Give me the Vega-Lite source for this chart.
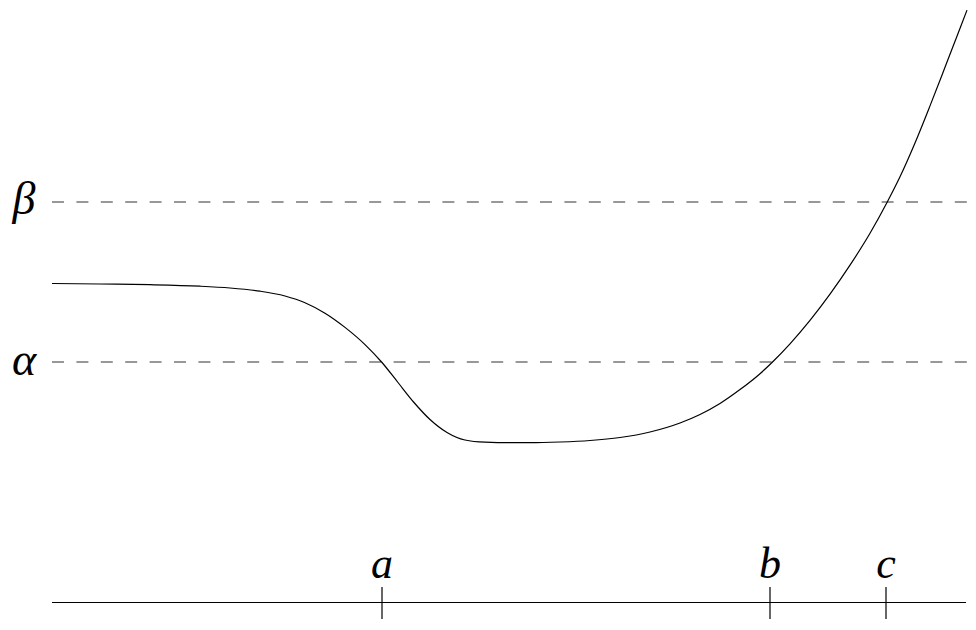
{
  "$schema": "https://vega.github.io/schema/vega-lite/v6.json",
  "width": 976,
  "height": 630,
  "autosize": {"type": "fit", "contains": "padding"},
  "padding": 0,
  "background": "white",
  "config": {"view": {"stroke": null}},
  "datasets": {
    "curve": [
      {"x": 52, "y": 346.5}, {"x": 100, "y": 346}, {"x": 150, "y": 345.3}, {"x": 200, "y": 343.8},
      {"x": 230, "y": 342}, {"x": 260, "y": 338.8}, {"x": 285, "y": 334}, {"x": 305, "y": 327.3},
      {"x": 325, "y": 316.8}, {"x": 345, "y": 302.6}, {"x": 365, "y": 285.4}, {"x": 382, "y": 267.5},
      {"x": 398, "y": 247.5}, {"x": 414, "y": 227.5}, {"x": 430, "y": 210.5}, {"x": 447, "y": 197.5},
      {"x": 465, "y": 190}, {"x": 485, "y": 187.8}, {"x": 510, "y": 187.3}, {"x": 530, "y": 187.3},
      {"x": 560, "y": 188}, {"x": 590, "y": 189.5}, {"x": 620, "y": 192.5}, {"x": 650, "y": 198},
      {"x": 680, "y": 207}, {"x": 700, "y": 215.5}, {"x": 720, "y": 226.5}, {"x": 740, "y": 240.4},
      {"x": 760, "y": 256.3}, {"x": 772, "y": 267.5}, {"x": 790, "y": 286.2}, {"x": 810, "y": 309.6},
      {"x": 830, "y": 335.8}, {"x": 850, "y": 364.8}, {"x": 870, "y": 396.7}, {"x": 887, "y": 427.5},
      {"x": 900, "y": 453.2}, {"x": 915, "y": 487}, {"x": 930, "y": 524.1}, {"x": 945, "y": 562.7},
      {"x": 956, "y": 591.3}, {"x": 967, "y": 619.9}
    ],
    "levels": [
      {"name": "α", "y": 268, "base": 255},
      {"name": "β", "y": 428, "base": 416}
    ],
    "ticks": [
      {"name": "a", "x": 382},
      {"name": "b", "x": 770},
      {"name": "c", "x": 886}
    ]
  },
  "layer": [
    {
      "data": {"name": "levels"},
      "mark": {"type": "rule", "stroke": "#333", "strokeWidth": 1.2, "strokeDash": [12, 12.4]},
      "encoding": {
        "x": {"datum": 52, "type": "quantitative", "scale": {"domain": [0, 976], "nice": false, "zero": false}, "axis": null},
        "x2": {"datum": 967},
        "y": {"field": "y", "type": "quantitative", "scale": {"domain": [0, 630], "nice": false, "zero": false}, "axis": null}
      }
    },
    {
      "data": {"name": "levels"},
      "mark": {"type": "text", "font": "Liberation Serif", "fontStyle": "italic", "fontSize": 46, "baseline": "alphabetic", "align": "center", "color": "black"},
      "encoding": {
        "x": {"datum": 24, "type": "quantitative"},
        "y": {"field": "base", "type": "quantitative"},
        "text": {"field": "name"}
      }
    },
    {
      "data": {"name": "curve"},
      "mark": {"type": "line", "interpolate": "monotone", "stroke": "black", "strokeWidth": 1.2},
      "encoding": {
        "x": {"field": "x", "type": "quantitative"},
        "y": {"field": "y", "type": "quantitative"}
      }
    },
    {
      "data": {"values": [{"k": 1}]},
      "mark": {"type": "rule", "stroke": "black", "strokeWidth": 1.2},
      "encoding": {
        "x": {"datum": 52, "type": "quantitative"},
        "x2": {"datum": 966},
        "y": {"datum": 27.5, "type": "quantitative"}
      }
    },
    {
      "data": {"name": "ticks"},
      "mark": {"type": "rule", "stroke": "black", "strokeWidth": 1.2},
      "encoding": {
        "x": {"field": "x", "type": "quantitative"},
        "y": {"datum": 11, "type": "quantitative"},
        "y2": {"datum": 43}
      }
    },
    {
      "data": {"name": "ticks"},
      "mark": {"type": "text", "font": "Liberation Serif", "fontStyle": "italic", "fontSize": 44, "baseline": "alphabetic", "align": "center", "color": "black"},
      "encoding": {
        "x": {"field": "x", "type": "quantitative"},
        "y": {"datum": 52, "type": "quantitative"},
        "text": {"field": "name"}
      }
    }
  ]
}
